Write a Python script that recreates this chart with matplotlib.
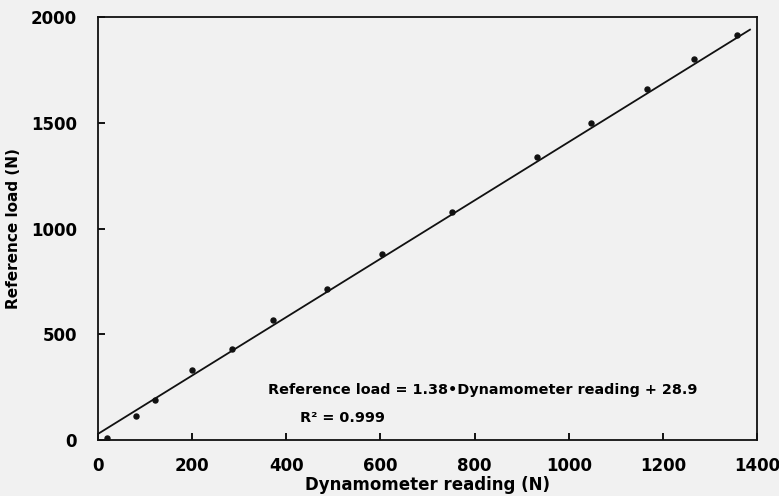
import matplotlib.pyplot as plt
import numpy as np

# calibration points
dyn_reading = [20, 81, 121, 199, 284, 371, 486, 604, 751, 933, 1047, 1167, 1267, 1358]
ref_load = [8, 112, 190, 330, 432, 568, 712, 878, 1078, 1340, 1497, 1660, 1800, 1915]

slope = 1.38
intercept = 28.9
fit_x = [0, 1385]

plt.rcParams['font.family'] = ['DejaVu Sans']
plt.rcParams['font.weight'] = 'bold'

fig = plt.figure(figsize=(7.79, 4.96), dpi=100, facecolor='#f1f1f1')
ax = fig.add_axes([0.1258, 0.1129, 0.8460, 0.8528])
ax.set_facecolor('#f1f1f1')

fx = np.array(fit_x)
ax.plot(fx, slope * fx + intercept, color='#111111', lw=1.3)
ax.plot(dyn_reading, ref_load, 'o', color='#111111', markersize=3.6)

ax.set_xlim(0, 1400)
ax.set_ylim(0, 2000)
ax.set_xticks(range(0, 1401, 200))
ax.set_yticks(range(0, 2001, 500))
ax.tick_params(direction='in', length=5, width=1.3, labelsize=12,
               top=False, right=False)
ax.tick_params(axis='x', pad=12)
ax.tick_params(axis='y', pad=15)
for lbl in ax.get_xticklabels() + ax.get_yticklabels():
    lbl.set_fontweight('bold')
for s in ax.spines.values():
    s.set_linewidth(1.3)
    s.set_color('#111111')

ax.set_xlabel('Dynamometer reading (N)', fontsize=12, fontweight='bold', labelpad=1)
ax.set_ylabel('Reference load (N)', fontsize=11, fontweight='bold', labelpad=7)

ax.text(361, 236, 'Reference load = 1.38\u2022Dynamometer reading + 28.9',
        fontsize=10.4, fontweight='bold', va='center', ha='left')
ax.text(429, 104, 'R\u00b2 = 0.999', fontsize=10.4, fontweight='bold',
        va='center', ha='left')

fig.savefig('out.png', dpi=100, facecolor=fig.get_facecolor())
